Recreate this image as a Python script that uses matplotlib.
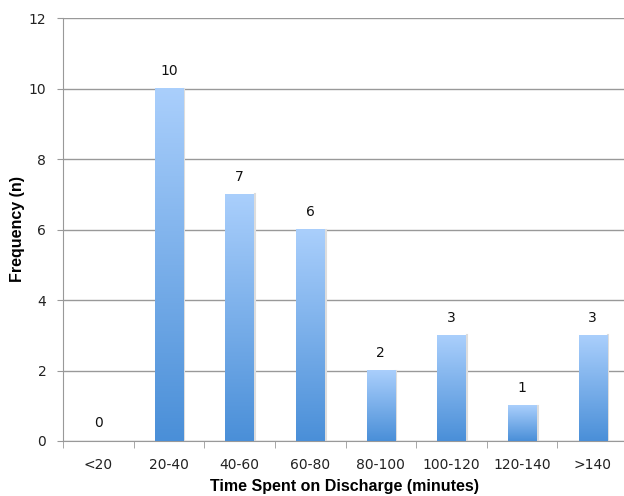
import matplotlib
matplotlib.use("Agg")
import matplotlib.pyplot as plt
import numpy as np
from matplotlib.colors import LinearSegmentedColormap

categories = ["<20", "20-40", "40-60", "60-80", "80-100", "100-120", "120-140", ">140"]
values = [0, 10, 7, 6, 2, 3, 1, 3]
y_ticks = [0, 2, 4, 6, 8, 10, 12]

fig = plt.figure(figsize=(6.24, 4.96), dpi=100)
ax = fig.add_axes([63/624, 55/496, 565/624, 423/496])

cmap = LinearSegmentedColormap.from_list("g", ["#4a8fd8", "#aacffc"])
grad = np.linspace(0, 1, 256).reshape(-1, 1)
width = 0.4
x = np.arange(len(categories))
for xi, v in zip(x, values):
    if v > 0:
        ax.imshow(grad, cmap=cmap, origin="lower", aspect="auto",
                  extent=(xi - width/2, xi + width/2, 0, v), zorder=3)
        ax.plot([xi + width/2 + 0.02, xi + width/2 + 0.02], [0, v], color="#dddddd", lw=1.5, zorder=2)
    ax.text(xi, v + 0.3, str(v), ha="center", va="bottom", fontsize=10, color="#111111", zorder=4)

ax.set_xlim(-0.5, len(categories) - 0.5)
ax.set_ylim(0, 12)
ax.set_yticks(y_ticks)
ax.set_yticklabels([str(t) for t in y_ticks], fontsize=10, color="#222222")
ax.set_xticks(x)
ax.set_xticklabels(categories, fontsize=10, color="#222222")
ax.set_xticks(np.arange(len(categories) + 1) - 0.5, minor=True)
ax.tick_params(axis="x", which="major", length=0, pad=12)
ax.tick_params(axis="x", which="minor", length=5, color="#999999", direction="out")
ax.tick_params(axis="y", length=4, color="#999999", direction="out", pad=8)
ax.grid(axis="y", color="#999999", lw=1, zorder=0)
ax.set_axisbelow(True)
for s in ["top", "right"]:
    ax.spines[s].set_visible(False)
for s in ["left", "bottom"]:
    ax.spines[s].set_color("#999999")

label_family = ["Liberation Sans", "DejaVu Sans"]
fig.text(345/624, 1 - 487/496, "Time Spent on Discharge (minutes)", fontsize=11.5, fontweight="bold",
         family=label_family, ha="center", va="center")
fig.text(18/624, 1 - 229/496, "Frequency (n)", fontsize=11.5, fontweight="bold",
         family=label_family, ha="center", va="center", rotation=90)

fig.savefig("out.png", dpi=100)
